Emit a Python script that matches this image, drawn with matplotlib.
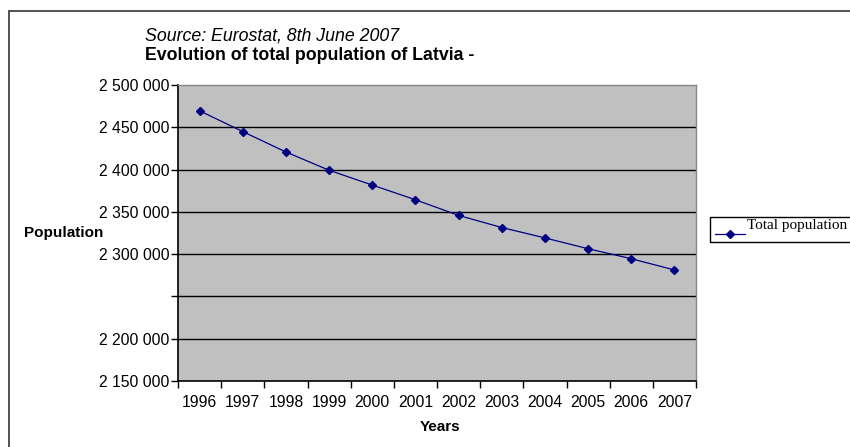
import matplotlib
matplotlib.use("Agg")
import matplotlib.pyplot as plt
from matplotlib.patches import Rectangle
from matplotlib.lines import Line2D

# population of Latvia, Eurostat
years = ["1996", "1997", "1998", "1999", "2000", "2001",
         "2002", "2003", "2004", "2005", "2006", "2007"]
population = [2469500, 2444900, 2420800, 2399200, 2381700, 2364300,
              2345800, 2331500, 2319200, 2306400, 2294600, 2281300]

yticks = [2150000, 2200000, 2250000, 2300000, 2350000, 2400000, 2450000, 2500000]
ylabels = ["2 150 000", "2 200 000", "", "2 300 000", "2 350 000",
           "2 400 000", "2 450 000", "2 500 000"]

plt.rcParams['font.family'] = ['Liberation Sans', 'DejaVu Sans']

fig = plt.figure(figsize=(8.5, 4.47), dpi=100)
ax = fig.add_axes([178/850, 1-381/447, 518/850, 296/447])

# outer chart frame, runs off the right and bottom edge
fig.patches.append(Rectangle((9/850, -0.05), 1.0, 1-11/447+0.05, transform=fig.transFigure,
                             fill=False, edgecolor='#444444', linewidth=1.3))

ax.set_facecolor('#c0c0c0')
for yv in yticks[1:-1]:
    ax.axhline(yv, color='black', linewidth=1.0, zorder=1)

xs = list(range(len(years)))
ax.plot(xs, population, color='#000080', linewidth=0.9, marker='D', markersize=4.5,
        markerfacecolor='#000080', markeredgecolor='#000080', zorder=3)

ax.set_xlim(-0.5, len(years) - 0.5)
ax.set_ylim(2150000, 2500000)
ax.set_yticks(yticks)
ax.set_yticklabels(ylabels, fontsize=11.3)
ax.set_xticks(xs)
ax.set_xticklabels(years, fontsize=11.3)
ax.tick_params(axis='x', which='major', length=0, pad=10)
ax.set_xticks([x - 0.5 for x in range(len(years) + 1)], minor=True)
ax.tick_params(axis='x', which='minor', length=5, direction='out', width=1)
ax.tick_params(axis='y', length=5, width=1, direction='out', pad=1)

for side in ['left', 'bottom']:
    ax.spines[side].set_linewidth(1.2)
for side in ['top', 'right']:
    ax.spines[side].set_color('#888888')
    ax.spines[side].set_linewidth(1.0)

fig.text(145/850, 1-36/447, "Source: Eurostat, 8th June 2007", fontsize=12.8,
         style='italic', va='center', ha='left')
fig.text(145/850, 1-56/447, "Evolution of total population of Latvia -", fontsize=12.8,
         fontweight='bold', va='center', ha='left')
fig.text(24/850, 1-233/447, "Population", fontsize=11, fontweight='bold', va='center', ha='left')
fig.text(440/850, 1-427/447, "Years", fontsize=11, fontweight='bold', va='center', ha='center')

# legend box
fig.patches.append(Rectangle((710/850, 1-242/447), 0.2, 25/447, transform=fig.transFigure,
                             fill=True, facecolor='white', edgecolor='black', linewidth=1.0))
fig.lines.append(Line2D([715/850, 745/850], [1-234/447, 1-234/447], transform=fig.transFigure,
                        color='#000080', linewidth=0.9))
fig.lines.append(Line2D([730/850], [1-234/447], transform=fig.transFigure,
                        color='#000080', marker='D', markersize=4.5, linestyle='none'))
fig.text(747/850, 1-226/447, "Total population", fontsize=11.0,
         family=['Liberation Serif', 'DejaVu Serif'], va='center', ha='left')

fig.savefig("out.png", dpi=100)
